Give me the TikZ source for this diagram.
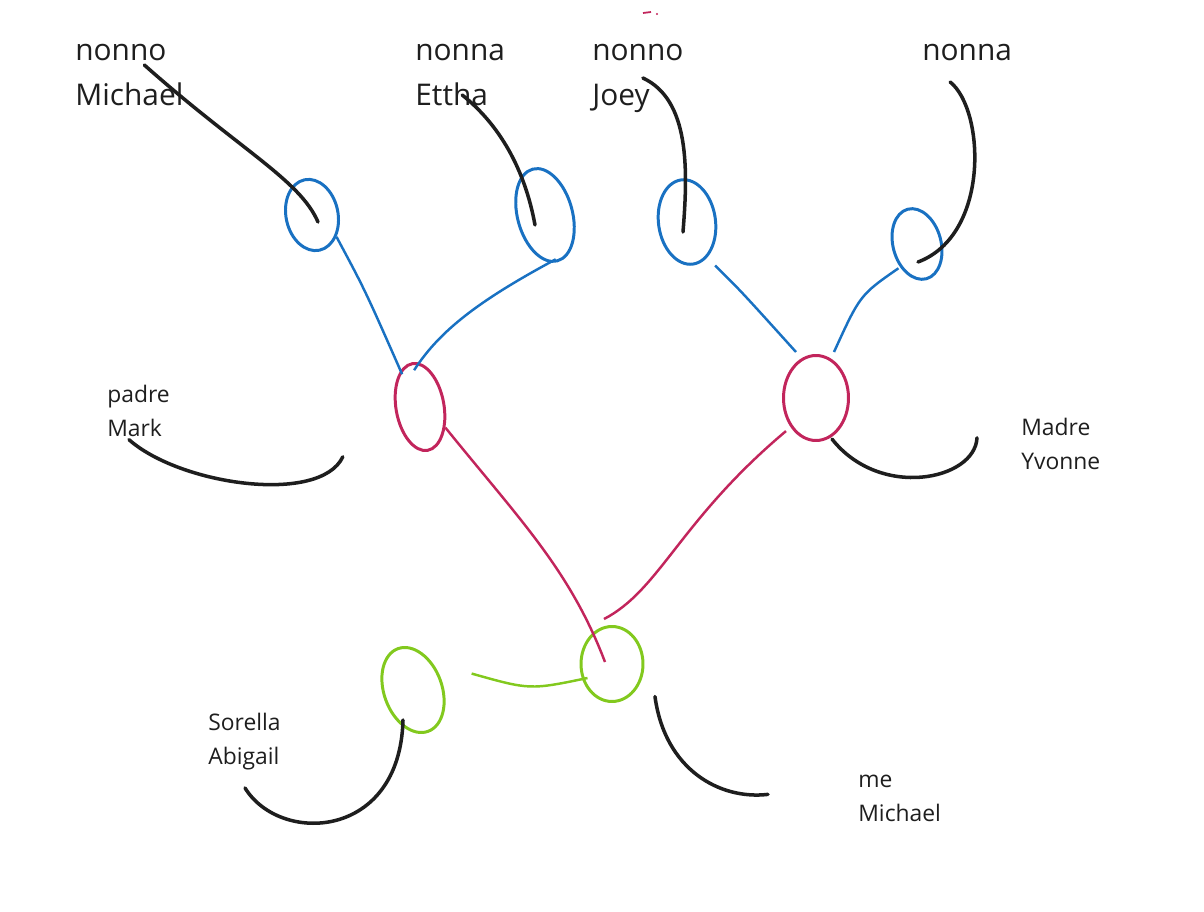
\documentclass[tikz,border=0pt]{standalone}
\usepackage{fontspec}
\setmainfont{Open Sans}
\usetikzlibrary{positioning,shapes,calc}
\definecolor{skblue}{HTML}{1971C2}
\definecolor{skpink}{HTML}{C2255C}
\definecolor{skgreen}{HTML}{82C91E}
\definecolor{skblack}{HTML}{1E1E1E}
\tikzstyle{gpbox}=[ellipse, draw=skblue, line width=1.7pt, inner sep=0pt]
\tikzstyle{parbox}=[ellipse, draw=skpink, line width=1.7pt, inner sep=0pt]
\tikzstyle{kidbox}=[ellipse, draw=skgreen, line width=1.7pt, inner sep=0pt]
\tikzstyle{bline}=[-, skblue, line width=1.4pt]
\tikzstyle{pline}=[-, skpink, line width=1.4pt]
\tikzstyle{gline}=[-, skgreen, line width=1.4pt]
\tikzstyle{ptr}=[-, skblack, line width=2pt, line cap=round]
\tikzstyle{biglbl}=[anchor=north west, inner sep=0pt, align=left,
 font=\fontsize{17}{25.5}\selectfont, text=skblack]
\tikzstyle{smalllbl}=[anchor=north west, inner sep=0pt, align=left,
 font=\fontsize{13}{19}\selectfont, text=skblack]

\begin{document}
\begin{tikzpicture}[x=0.02cm, y=-0.02cm]
\useasboundingbox (0,0) rectangle (1204,912);

\node (GPM) [gpbox, minimum width=1.04cm, minimum height=1.44cm, rotate=12] at (312,215) {};
\node (GME) [gpbox, minimum width=1.1cm, minimum height=1.9cm, rotate=15] at (545,215) {};
\node (GPJ) [gpbox, minimum width=1.14cm, minimum height=1.7cm, rotate=8] at (687,222) {};
\node (GMN) [gpbox, minimum width=0.96cm, minimum height=1.44cm, rotate=15] at (917,244) {};

\node (MARK) [parbox, minimum width=0.96cm, minimum height=1.76cm, rotate=10] at (420,407) {};
\node (YVONNE) [parbox, minimum width=1.3cm, minimum height=1.7cm] at (816,398) {};

\node (ME) [kidbox, minimum width=1.24cm, minimum height=1.5cm] at (612,664) {};
\node (ABIGAIL) [kidbox, minimum width=1.16cm, minimum height=1.76cm, rotate=20] at (413,690) {};

\node (LGPM) [biglbl] at (75,44) {nonno\\Michael};
\node (LGME) [biglbl] at (415,44) {nonna\\Ettha};
\node (LGPJ) [biglbl] at (592,44) {nonno\\Joey};
\node (LGMN) [biglbl] at (922,44) {nonna};
\node (LMARK) [smalllbl] at (107,385) {padre\\Mark};
\node (LYVONNE) [smalllbl] at (1021,418) {Madre\\Yvonne};
\node (LABIGAIL) [smalllbl] at (208,713) {Sorella\\Abigail};
\node (LME) [smalllbl] at (858,775) {me\\Michael};

 \draw[bline] (GPM.south east) .. controls (365,290) .. ($(MARK.north)+(-10,12)$);
 \draw[bline] ($(GME.south)+(-2,-3)$) .. controls (480,300) and (440,330) .. ($(MARK.north)+(2,8)$);
 \draw[bline] ($(GPJ.south)+(22,0)$) .. controls (740,290) .. ($(YVONNE.north)+(-20,-2)$);
 \draw[bline] ($(GMN.south west)+(-8,-6)$) .. controls (860,295) .. ($(YVONNE.north)+(18,-2)$);

 \draw[pline] ($(MARK.south east)+(2,-8)$) .. controls (520,520) and (570,570) .. ($(ME.center)+(-7,-2)$);
 \draw[pline] ($(YVONNE.south west)+(-6,2)$) .. controls (680,520) and (660,590) .. ($(ME.north)+(-8,-6)$);
 \draw[gline] ($(ABIGAIL.east)+(30,-6)$) .. controls (530,690) .. ($(ME.west)+(8,14)$);

 \draw[ptr] ($(LGPM.north)+(15,21)$) .. controls (240,150) and (300,180) .. ($(GPM.center)+(6,7)$);
 \draw[ptr] ($(LGME.north)+(2,51)$) .. controls (500,125) and (525,170) .. ($(GME.center)+(-10,10)$);
 \draw[ptr] ($(LGPJ.north)+(5,34)$) .. controls (690,100) and (688,170) .. ($(GPJ.center)+(-4,10)$);
 \draw[ptr] ($(LGMN.north)+(-17,38)$) .. controls (985,110) and (990,235) .. ($(GMN.center)+(1,18)$);
 \draw[ptr] ($(LMARK.south west)+(22,3)$) .. controls (180,485) and (320,505) .. ($(MARK.south west)+(-65,15)$);
 \draw[ptr] ($(YVONNE.south east)+(-8,10)$) .. controls (880,500) and (975,480) .. ($(LYVONNE.west)+(-44,-6)$);
 \draw[ptr] ($(ABIGAIL.center)+(-10,30)$) .. controls (400,840) and (280,845) .. ($(LABIGAIL.south west)+(37,18)$);
 \draw[ptr] ($(ME.south east)+(20,5)$) .. controls (665,770) and (720,800) .. ($(LME.west)+(-90,-4)$);

\draw[skpink, line width=1pt] (643,13) -- (651,12);
\fill[skpink] (657,14) circle (1.2);

\end{tikzpicture}
\end{document}
